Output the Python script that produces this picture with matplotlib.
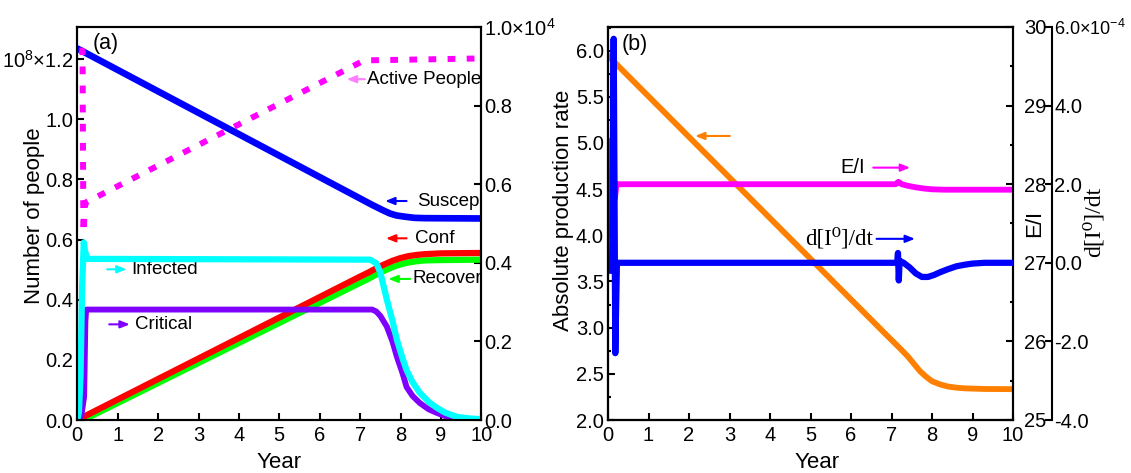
import matplotlib
matplotlib.use("Agg")
import matplotlib.pyplot as plt
from matplotlib.ticker import MultipleLocator, FormatStrFormatter

plt.rcParams['font.family'] = ['Liberation Sans', 'DejaVu Sans']

# ---------------- Panel (a) data ----------------
# Susceptible (left axis, x1e8)
t_suscep = [0, 7.3, 7.45, 7.6, 7.75, 7.9, 8.1, 8.35, 8.6, 10]
v_suscep = [1.235, 0.715, 0.705, 0.695, 0.686, 0.680, 0.676, 0.672, 0.671, 0.670]
# Right-axis series (x1e4)
t_active = [0.05, 0.13, 0.15, 0.2, 7.1, 10]
v_active = [0.94, 0.94, 0.477, 0.553, 0.915, 0.92]
t_infected = [0, 0.04, 0.08, 0.12, 0.16, 0.19, 0.25, 7.25, 7.4, 7.5, 7.66, 7.8, 7.91, 8.05,
              8.15, 8.3, 8.48, 8.7, 8.9, 9.1, 9.39, 9.7, 10]
v_infected = [0, 0.02, 0.11, 0.34, 0.452, 0.43, 0.41, 0.408, 0.399, 0.376, 0.307, 0.253, 0.204,
              0.157, 0.127, 0.096, 0.069, 0.046, 0.031, 0.019, 0.008, 0.004, 0.002]
t_critical = [0, 0.1, 0.17, 0.2, 0.22, 7.3, 7.4, 7.5, 7.66, 7.8, 7.91, 8.05, 8.15, 8.3, 8.48,
              8.7, 8.9, 9.1, 9.39, 9.6, 10]
v_critical = [0, 0.01, 0.06, 0.25, 0.281, 0.281, 0.276, 0.265, 0.238, 0.200, 0.161, 0.119,
              0.084, 0.061, 0.043, 0.027, 0.018, 0.010, 0.005, 0.0015, 0.0]
t_conf = [0, 7.0, 7.2, 7.4, 7.6, 7.8, 8.0, 8.2, 8.4, 8.6, 9.0, 10]
v_conf = [0, 0.365, 0.375, 0.386, 0.396, 0.405, 0.412, 0.417, 0.420, 0.422, 0.424, 0.425]
t_recover = [0.15, 7.0, 7.2, 7.4, 7.6, 7.8, 8.0, 8.2, 8.4, 8.6, 9.0, 10]
v_recover = [0, 0.349, 0.359, 0.370, 0.380, 0.389, 0.396, 0.401, 0.404, 0.406, 0.407, 0.408]

# ---------------- Panel (b) data ----------------
t_rate = [0, 6.9, 7.2, 7.4, 7.55, 7.7, 7.85, 8.0, 8.2, 8.4, 8.6, 8.8, 9.3, 10]
v_rate = [5.945, 2.91, 2.78, 2.69, 2.61, 2.53, 2.47, 2.42, 2.385, 2.362, 2.35, 2.343, 2.336, 2.334]
t_ei = [0, 0.005, 0.02, 0.12, 0.17, 0.21, 7.1, 7.17, 7.25, 7.4, 7.6, 7.8, 8.0, 8.3, 10]
v_ei = [27.35, 27.35, 28.55, 28.55, 27.82, 28.0, 28.0, 28.03, 28.0, 27.98, 27.96, 27.945,
        27.935, 27.93, 27.93]
t_dI = [0, 0.1, 0.14, 0.16, 0.18, 0.22, 7.14, 7.16, 7.18, 7.2, 7.3, 7.45, 7.6, 7.75, 7.9,
        8.05, 8.2, 8.4, 8.6, 8.8, 9.0, 9.3, 10]
v_dI = [-0.2, -0.2, 5.7, 2.0, -2.3, 0.0, 0.0, 0.25, -0.45, 0.05, 0.0, -0.12, -0.27, -0.36,
        -0.36, -0.31, -0.24, -0.16, -0.09, -0.05, -0.02, 0.0, 0.0]

years = list(range(0, 11))
yl_a = ['0.0', '0.2', '0.4', '0.6', '0.8', '1.0', r'10$^{\mathregular{8}}$×1.2']
yr_a = ['0.0', '0.2', '0.4', '0.6', '0.8', r'1.0×10$^{\mathregular{4}}$']
yr_b2 = ['-4.0', '-2.0', '0.0', '2.0', '4.0', r'6.0×10$^{\mathregular{-4}}$']

W, H = 1131, 473
fig = plt.figure(figsize=(W / 100, H / 100), dpi=100)

TS = 14.5
LS = 16
AS = 13.5

def style(ax):
    for s in ax.spines.values():
        s.set_linewidth(1.5)
    ax.tick_params(direction='in', width=1.5, length=5, labelsize=TS, pad=3)
    ax.tick_params(which='minor', direction='in', width=1.5, length=2.5)

def arrow(ax, tail, head, color):
    ax.annotate('', xy=head, xytext=tail,
                arrowprops=dict(arrowstyle='-|>,head_length=0.55,head_width=0.22',
                                color=color, lw=1.5, shrinkA=0, shrinkB=0))

# ---------- Panel (a) ----------
axA = fig.add_axes([77.3 / W, 53 / H, 404 / W, 393 / H])
axA2 = axA.twinx()
style(axA); style(axA2)
axA.plot(t_suscep, v_suscep, color='#0000FF', lw=4.8, solid_capstyle='round', zorder=3)
axA2.plot(t_recover, v_recover, color='#00FF00', lw=4.5)
axA2.plot(t_conf, v_conf, color='#FF0000', lw=4.5)
axA2.plot(t_critical, v_critical, color='#7F00FF', lw=4.2)
axA2.plot(t_infected, v_infected, color='#00FFFF', lw=4.5)
axA2.plot(t_active, v_active, color='#FF00FF', lw=4.3, dashes=(1.3, 1.9), dash_capstyle='butt')
axA.set_xlim(0, 10)
axA.set_ylim(0, 1.3065)
axA2.set_ylim(0, 1.0)
axA.set_xticks(years)
axA.set_yticks([0, 0.2, 0.4, 0.6, 0.8, 1.0, 1.2])
axA.set_yticklabels(yl_a)
axA2.set_yticks([0, 0.2, 0.4, 0.6, 0.8, 1.0])
axA2.set_yticklabels(yr_a)
axA2.tick_params(axis='y', pad=2)
axA.tick_params(axis='x', pad=4)
axA.set_xlabel('Year', fontsize=LS, va='center')
axA.xaxis.set_label_coords(0.5, -0.107)
axA.set_ylabel('Number of people', fontsize=LS, va='center')
axA.yaxis.set_label_coords(-0.107, 0.52)
axA.text(0.37, 1.25, '(a)', fontsize=15.5, va='center', ha='left')

arrow(axA, (7.12, 1.133), (6.67, 1.133), '#FF80FF')
axA.text(7.16, 1.133, 'Active People', fontsize=AS, va='center', ha='left')
arrow(axA, (8.15, 0.728), (7.62, 0.728), '#0000FF')
axA.text(8.40, 0.728, 'Suscep', fontsize=AS, va='center', ha='left')
arrow(axA, (8.15, 0.604), (7.64, 0.604), '#FF0000')
axA.text(8.36, 0.604, 'Conf', fontsize=AS, va='center', ha='left')
arrow(axA, (8.24, 0.469), (7.70, 0.469), '#00FF00')
axA.text(8.29, 0.469, 'Recover', fontsize=AS, va='center', ha='left')
arrow(axA, (0.74, 0.501), (1.22, 0.501), '#00FFFF')
axA.text(1.33, 0.501, 'Infected', fontsize=AS, va='center', ha='left')
arrow(axA, (0.79, 0.318), (1.30, 0.318), '#7F00FF')
axA.text(1.43, 0.318, 'Critical', fontsize=AS, va='center', ha='left')

# ---------- Panel (b) ----------
axB = fig.add_axes([608 / W, 53 / H, 405 / W, 393 / H])
axB2 = axB.twinx()
axB3 = axB.twinx()
axB3.spines['right'].set_position(('outward', 39 * 0.72))
for a in (axB, axB2, axB3):
    style(a)
axB.plot(t_rate, v_rate, color='#FF8000', lw=4.2)
axB2.plot(t_ei, v_ei, color='#FF00FF', lw=4.2)
axB3.plot(t_dI, v_dI, color='#0000FF', lw=4.5)
axB.set_xlim(0, 10)
axB.set_ylim(2.0, 6.256)
axB2.set_ylim(25, 30)
axB3.set_ylim(-4, 6)
axB.set_xticks(years)
axB.tick_params(axis='x', pad=4)
axB.yaxis.set_major_locator(MultipleLocator(0.5))
axB.yaxis.set_minor_locator(MultipleLocator(0.25))
axB.yaxis.set_major_formatter(FormatStrFormatter('%.1f'))
axB2.yaxis.set_major_locator(MultipleLocator(1))
axB2.yaxis.set_minor_locator(MultipleLocator(0.5))
axB2.tick_params(axis='y', pad=8)
axB3.set_yticks([-4, -2, 0, 2, 4, 6])
axB3.set_yticklabels(yr_b2)
axB3.tick_params(axis='y', pad=1.5)
axB3.get_yticklabels()[-1].set_fontsize(13)
axB.set_xlabel('Year', fontsize=LS, va='center')
axB.xaxis.set_label_coords(0.517, -0.107)
axB.set_ylabel('Absolute production rate', fontsize=LS, va='center')
axB.yaxis.set_label_coords(-0.109, 0.533)
axB.text(0.34, 6.07, '(b)', fontsize=15.5, va='center', ha='left')
fig.text(1035 / W, 1 - 223 / H, 'E/I', fontsize=LS, rotation=90, ha='center', va='center')
fig.text(1094 / W, 1 - 222 / H, 'd[I⁰]/dt', fontsize=17, rotation=90, ha='center', va='center',
         family=['Liberation Serif', 'DejaVu Serif'])

arrow(axB, (3.01, 5.076), (2.15, 5.076), '#FF8000')
axB.text(5.73, 4.736, 'E/I', fontsize=14.5, va='center', ha='left')
arrow(axB, (6.55, 4.733), (7.46, 4.733), '#FF00FF')
axB.text(4.86, 3.965, 'd[I⁰]/dt', fontsize=16.5, va='center', ha='left',
         family=['Liberation Serif', 'DejaVu Serif'])
arrow(axB, (6.63, 3.962), (7.58, 3.962), '#0000FF')

fig.savefig('out.png', dpi=100)
